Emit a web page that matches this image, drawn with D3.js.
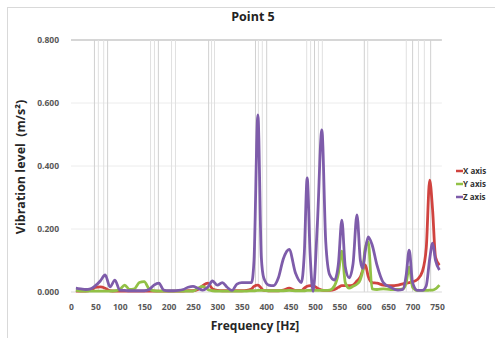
<!DOCTYPE html>
<html>
<head>
<meta charset="utf-8">
<script src="https://cdn.jsdelivr.net/npm/d3@7"></script>
<style>
  body { margin: 0; background: #fff; }
  text { font-family: "Open Sans", Lato, sans-serif; }
</style>
</head>
<body>
<svg width="495" height="338"></svg>
<script>
// frequencies (Hz) shared by the three series
let freq = [10, 20, 30, 40, 50, 60, 70, 80, 90, 100, 110, 120, 130, 140, 150, 160, 170, 180, 190, 200,
    210, 220, 230, 240, 250, 260, 270, 280, 290, 300, 310, 320, 330, 340, 350, 360, 370, 375, 383, 390,
    395, 405, 415, 425, 435, 447, 460, 472, 478, 484, 490, 496, 505, 514, 522, 530, 540, 548, 555, 562,
    570, 578, 586, 593, 598, 603, 609, 617, 627, 640, 655, 670, 680, 687, 693, 700, 710, 720, 728, 735,
    741, 747, 755]

let xAxisVals = [0.003, 0.003, 0.003, 0.005, 0.015, 0.016, 0.012, 0.004, 0.003, 0.003, 0.003, 0.003, 0.003, 0.003, 0.003, 0.003, 0.003, 0.003, 0.003, 0.003,
    0.003, 0.003, 0.003, 0.004, 0.004, 0.008, 0.020, 0.028, 0.010, 0.005, 0.004, 0.004, 0.004, 0.004, 0.004, 0.005, 0.010, 0.018, 0.022, 0.012,
    0.005, 0.004, 0.004, 0.004, 0.006, 0.012, 0.005, 0.005, 0.012, 0.018, 0.020, 0.020, 0.012, 0.006, 0.005, 0.005, 0.008, 0.015, 0.020, 0.020,
    0.020, 0.022, 0.035, 0.048, 0.070, 0.086, 0.050, 0.030, 0.028, 0.022, 0.020, 0.022, 0.026, 0.028, 0.030, 0.032, 0.040, 0.065, 0.140, 0.355,
    0.260, 0.110, 0.085]

let yAxisVals = [0.005, 0.003, 0.003, 0.003, 0.003, 0.003, 0.003, 0.003, 0.004, 0.008, 0.022, 0.008, 0.010, 0.030, 0.033, 0.010, 0.004, 0.003, 0.003, 0.003,
    0.003, 0.003, 0.003, 0.003, 0.003, 0.012, 0.018, 0.008, 0.004, 0.003, 0.003, 0.003, 0.003, 0.003, 0.003, 0.003, 0.004, 0.004, 0.005, 0.005,
    0.005, 0.004, 0.004, 0.004, 0.004, 0.005, 0.004, 0.004, 0.004, 0.005, 0.005, 0.005, 0.005, 0.005, 0.005, 0.006, 0.020, 0.060, 0.130, 0.030,
    0.012, 0.018, 0.025, 0.040, 0.070, 0.140, 0.160, 0.010, 0.008, 0.010, 0.008, 0.008, 0.010, 0.030, 0.080, 0.015, 0.005, 0.005, 0.005, 0.006,
    0.006, 0.010, 0.022]

let zAxisVals = [0.012, 0.010, 0.008, 0.010, 0.020, 0.035, 0.054, 0.016, 0.038, 0.006, 0.005, 0.004, 0.004, 0.004, 0.004, 0.008, 0.022, 0.028, 0.006, 0.004,
    0.004, 0.005, 0.008, 0.015, 0.018, 0.012, 0.006, 0.015, 0.035, 0.022, 0.030, 0.015, 0.005, 0.025, 0.030, 0.030, 0.030, 0.100, 0.562, 0.110,
    0.045, 0.022, 0.020, 0.045, 0.105, 0.135, 0.060, 0.030, 0.120, 0.362, 0.120, 0.002, 0.220, 0.515, 0.160, 0.055, 0.038, 0.090, 0.228, 0.080,
    0.045, 0.090, 0.245, 0.100, 0.075, 0.130, 0.175, 0.150, 0.085, 0.030, 0.015, 0.006, 0.008, 0.055, 0.133, 0.030, 0.005, 0.005, 0.020, 0.105,
    0.155, 0.100, 0.070]

let seriesNames = ['X axis', 'Y axis', 'Z axis']
let seriesColors = ['#d0433f', '#92c146', '#7e5caa']
let xTicks = d3.range(0, 751, 50)
let yTicks = [0, 0.2, 0.4, 0.6, 0.8]
// faint vertical marker lines seen in the plot (Hz)
let markerFreqs = [47, 55, 66, 74, 162, 170, 178, 205, 213, 281, 287, 293, 377, 383, 391, 400,
    482, 490, 498, 506, 514, 600, 607, 686, 699, 711, 723, 736]

let svg = d3.select('svg')
let margin = {left: 71, right: 58, top: 40, bottom: 46}
let width = 495 - margin.left - margin.right
let height = 338 - margin.top - margin.bottom

let xScale = d3.scaleLinear().domain([0, 750]).range([margin.left, margin.left + width])
let yScale = d3.scaleLinear().domain([0, 0.8]).range([margin.top + height, margin.top])

// chart border
svg.append('rect')
    .attr('x', 7.5).attr('y', 7.5)
    .attr('width', 500).attr('height', 340)
    .attr('fill', 'none')
    .attr('stroke', '#d9d9d9')

// horizontal gridlines
svg.append('g')
    .selectAll('line')
    .data(yTicks.filter(d => d > 0))
    .enter()
    .append('line')
    .attr('x1', xScale(0)).attr('x2', xScale(760))
    .attr('y1', d => yScale(d)).attr('y2', d => yScale(d))
    .attr('stroke', d => d == 0.8 ? '#c8c8c8' : '#ececec')
    .attr('stroke-width', d => d == 0.8 ? 1.5 : 1)

// vertical marker lines
svg.append('g')
    .selectAll('line')
    .data(markerFreqs)
    .enter()
    .append('line')
    .attr('x1', d => xScale(d) + 0.5).attr('x2', d => xScale(d) + 0.5)
    .attr('y1', yScale(0.8)).attr('y2', yScale(0))
    .attr('stroke', (d, i) => i % 3 == 0 ? '#d0d0d0' : '#e0e0e0')

// baseline
svg.append('line')
    .attr('x1', xScale(0)).attr('x2', xScale(760))
    .attr('y1', yScale(0)).attr('y2', yScale(0))
    .attr('stroke', '#d9d9d9')

// x axis
let xAxis = svg.append('g')
    .attr('transform', 'translate(0,' + (margin.top + height) + ')')
    .call(d3.axisBottom(xScale).tickValues(xTicks).tickSize(0).tickPadding(12).tickFormat(d3.format('d')))
xAxis.select('.domain').remove()
xAxis.selectAll('text')
    .attr('font-size', 8.5).attr('font-weight', 'bold').attr('fill', '#595959')
    .style('font-family', '"Open Sans", sans-serif')

// y axis
let yAxis = svg.append('g')
    .attr('transform', 'translate(' + (margin.left - 12) + ',0)')
    .call(d3.axisLeft(yScale).tickValues(yTicks).tickSize(0).tickPadding(0).tickFormat(d3.format('.3f')))
yAxis.select('.domain').remove()
yAxis.selectAll('text')
    .attr('font-size', 8.5).attr('font-weight', 'bold').attr('fill', '#595959')
    .style('font-family', '"Open Sans", sans-serif')

// lines
let allVals = [xAxisVals, yAxisVals, zAxisVals]
let line = d3.line()
    .x((d, i) => xScale(freq[i]))
    .y(d => yScale(d))
    .curve(d3.curveMonotoneX)

svg.append('g')
    .selectAll('path')
    .data(allVals)
    .enter()
    .append('path')
    .attr('d', d => line(d))
    .attr('fill', 'none')
    .attr('stroke', (d, i) => seriesColors[i])
    .attr('stroke-width', 2.8)
    .attr('stroke-linejoin', 'round')

// title
svg.append('text')
    .attr('x', 253).attr('y', 21)
    .attr('text-anchor', 'middle')
    .attr('font-size', 12.5).attr('font-weight', 'bold').attr('fill', '#222')
    .text('Point 5')

// axis titles
svg.append('text')
    .attr('x', 255).attr('y', 330)
    .attr('text-anchor', 'middle')
    .attr('font-size', 12).attr('font-weight', 'bold').attr('fill', '#262626')
    .text('Frequency [Hz]')

svg.append('text')
    .attr('transform', 'translate(25,167) rotate(-90)')
    .attr('text-anchor', 'middle')
    .attr('font-size', 12.5).attr('font-weight', 'bold').attr('fill', '#262626')
    .style('white-space', 'pre')
    .text('Vibration level  (m/s²)')

// legend
let legend = svg.append('g')
    .selectAll('g')
    .data(seriesNames)
    .enter()
    .append('g')
    .attr('transform', (d, i) => 'translate(456,' + (171 + i * 13) + ')')
legend.append('line')
    .attr('x1', 0).attr('x2', 7).attr('y1', 0).attr('y2', 0)
    .attr('stroke', (d, i) => seriesColors[i])
    .attr('stroke-width', 2.5)
legend.append('text')
    .attr('x', 7).attr('y', 3)
    .attr('font-size', 8).attr('font-weight', 'bold').attr('fill', '#333')
    .text(d => d)
</script>
</body>
</html>
